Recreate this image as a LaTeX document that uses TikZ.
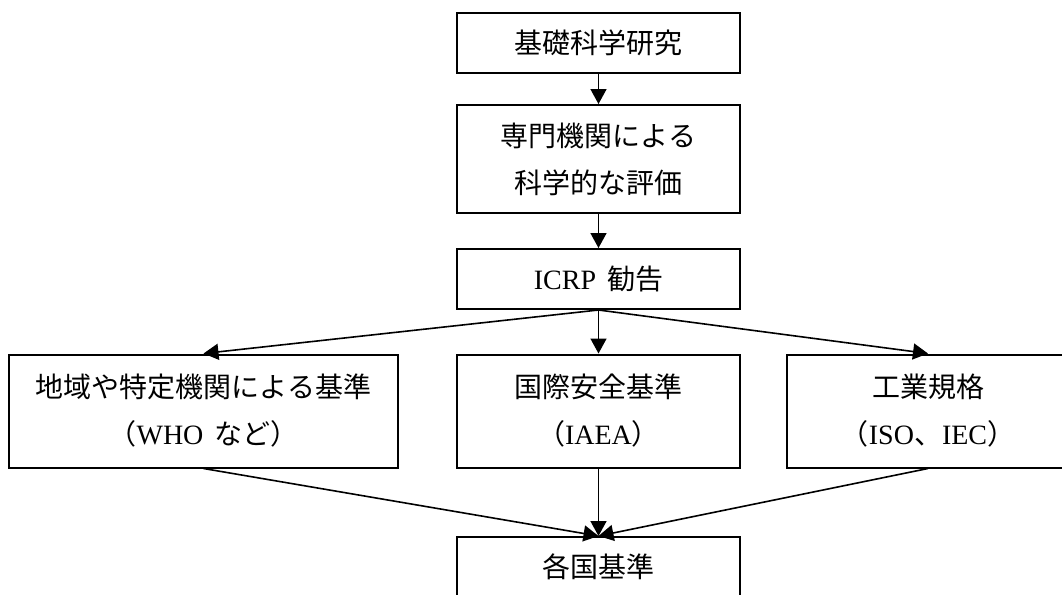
\documentclass[tikz,border=0pt]{standalone}
\usepackage{fontspec}
\setmainfont{Noto Sans CJK JP}
\newfontfamily\lat{Liberation Serif}
\usetikzlibrary{positioning, arrows.meta}
\tikzstyle{Arrow} = [
%Create custom arrow style:
line width = 0.8pt,
-{Triangle[length = 7.5pt, width = 8pt]}
]

\begin{document}
\begin{tikzpicture}[
			x = 0.5pt, y = -0.5pt,
			oneline/.style = {rectangle, draw, line width = 1pt, text centered, inner sep = 0pt, minimum width = 141.5pt, minimum height = 30pt, font = \fontsize{14pt}{23.5pt}\selectfont},
			twoline/.style = {oneline, align = center, minimum height = 54pt},
			standard/.style = {twoline, minimum height = 56.5pt},
		]
		\useasboundingbox (0,0) rectangle (1062,595);

		\node[oneline](Basic) at (598.5,43){基礎科学研究};
		\node[twoline](Eval) at (598.5,159){専門機関による\\科学的な評価};
		\node[oneline](ICRP) at (598.5,279){{\lat ICRP}\, 勧告};

		\node[standard, minimum width = 194.5pt](Regional) at (203.5,411){地域や特定機関による基準\\（{\lat WHO}\, など）};
		\node[standard](Intl) at (598.5,411){国際安全基準\\（{\lat IAEA}）};
		\node[standard](Industry) at (928,411){工業規格\\（{\lat ISO}、{\lat IEC}）};

		\node[oneline](National) at (598.5,567){各国基準};

		\draw[Arrow](Basic)--(Eval);
		\draw[Arrow](Eval)--(ICRP);
		\draw[Arrow](ICRP.south)--(Regional.north);
		\draw[Arrow](ICRP)--(Intl);
		\draw[Arrow](ICRP.south)--(Industry.north);
		\draw[Arrow](Regional.south)--(National.north);
		\draw[Arrow](Intl)--(National);
		\draw[Arrow](Industry.south)--(National.north);

	\end{tikzpicture}
\end{document}
